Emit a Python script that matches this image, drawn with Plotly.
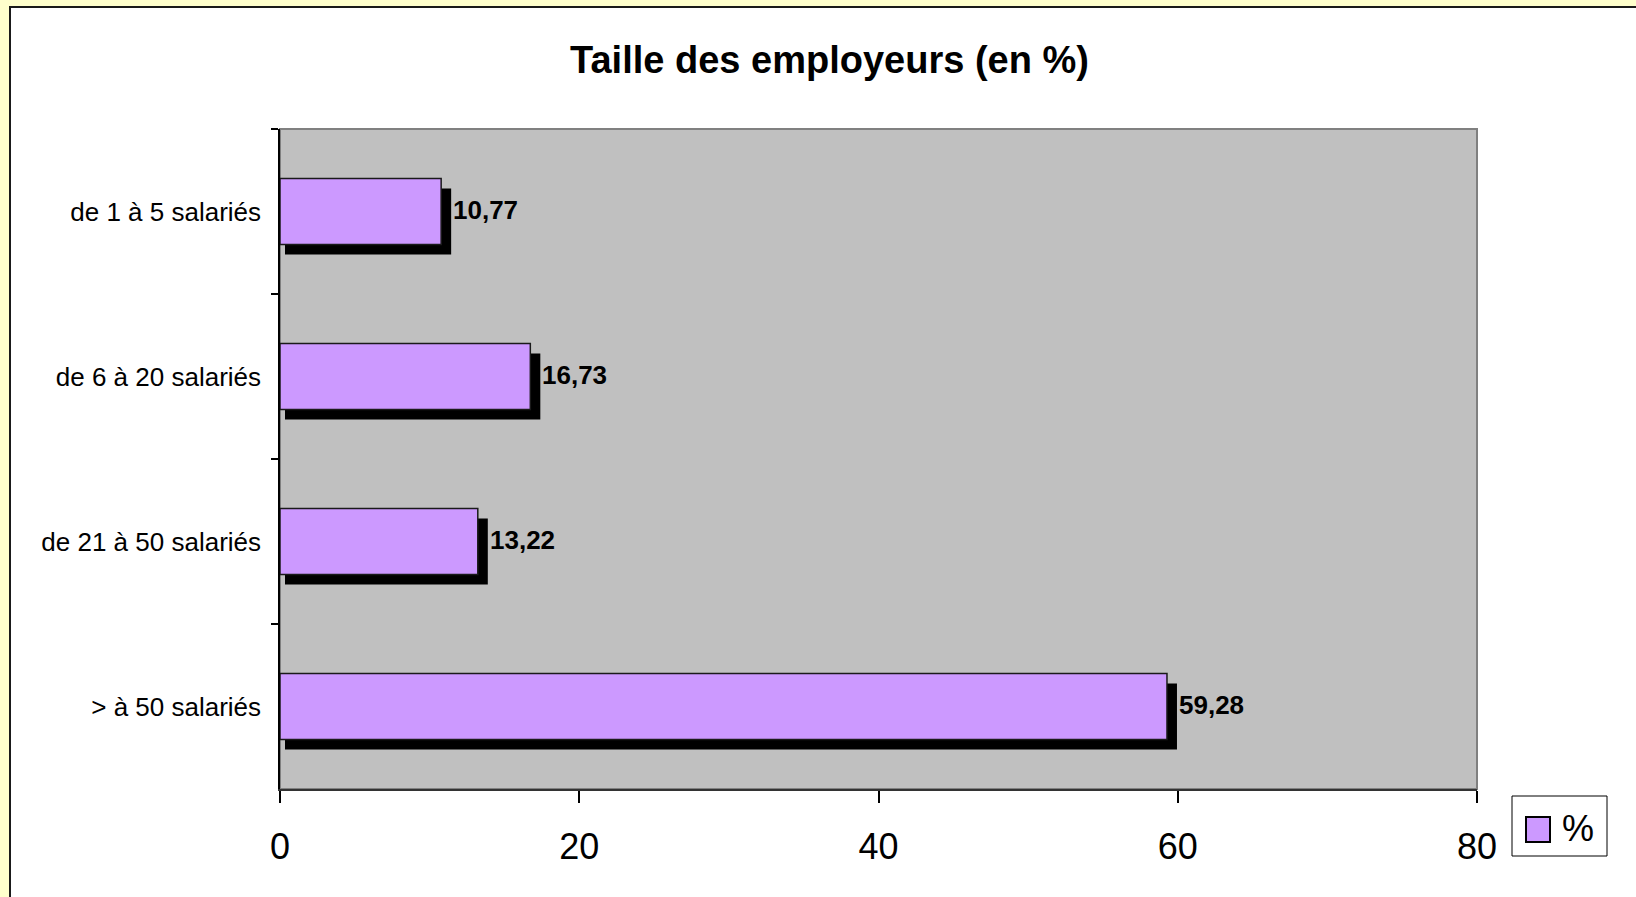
import plotly.graph_objects as go

# ---- data ----
categories = ["de 1 à 5 salariés", "de 6 à 20 salariés", "de 21 à 50 salariés", "> à 50 salariés"]
values = [10.77, 16.73, 13.22, 59.28]
value_labels = ["10,77", "16,73", "13,22", "59,28"]
x_ticks = [0, 20, 40, 60, 80]
series_name = "%"
title_text = "Taille des employeurs (en %)"

# ---- layout geometry (pixels) ----
W, H = 1636, 897
L, R, T, B = 280, 1477, 129, 789
PW, PH = R - L, B - T
XMAX = 80
px_per_unit = PW / XMAX
band_px = PH / len(categories)
BAR_W = 0.4

def px2x(px):
    return (px - L) / PW

def py2y(py):
    return (B - py) / PH

FONT = "Liberation Sans, Arial, sans-serif"

shadow_dx = 10 / px_per_unit
shadow_base = 5 / px_per_unit
shadow_dy = 10 / band_px

fig = go.Figure()

# shadow
fig.add_trace(go.Bar(
    y=categories,
    x=[v + shadow_dx - shadow_base for v in values],
    base=shadow_base,
    orientation="h",
    width=BAR_W,
    offset=-BAR_W / 2 + shadow_dy,
    marker=dict(color="#000000", line=dict(width=0)),
    showlegend=False,
    hoverinfo="skip",
))

# main bars
fig.add_trace(go.Bar(
    y=categories,
    x=values,
    orientation="h",
    width=BAR_W,
    offset=-BAR_W / 2,
    name=series_name,
    marker=dict(color="#CC99FF", line=dict(color="#1a1a1a", width=1.5)),
    showlegend=False,
))

annotations = []
for c, v, t in zip(categories, values, value_labels):
    annotations.append(dict(
        x=v, y=c, xref="x", yref="y", text=t, showarrow=False,
        xanchor="left", yanchor="middle", xshift=10, yshift=2,
        font=dict(family=FONT, size=26, color="#000000", weight="bold"),
    ))

# manual legend
annotations.append(dict(
    x=px2x(1560), y=py2y(828), xref="paper", yref="paper", text=series_name,
    showarrow=False, xanchor="left", yanchor="middle",
    font=dict(family=FONT, size=36, color="#000000"),
))

shapes = [
    # white chart area with border
    dict(type="rect", xref="paper", yref="paper", layer="below",
         x0=px2x(10), x1=px2x(W + 20), y0=py2y(H + 20), y1=py2y(7),
         fillcolor="#FFFFFF", line=dict(color="#1a1a1a", width=2)),
    # gray plot area
    dict(type="rect", xref="paper", yref="paper", layer="below",
         x0=0, x1=1, y0=0, y1=1,
         fillcolor="#C0C0C0", line=dict(color="#808080", width=2)),
    # legend box
    dict(type="rect", xref="paper", yref="paper", layer="above",
         x0=px2x(1512), x1=px2x(1607), y0=py2y(856), y1=py2y(796),
         fillcolor="#FFFFFF", line=dict(color="#000000", width=1)),
    # legend swatch
    dict(type="rect", xref="paper", yref="paper", layer="above",
         x0=px2x(1526), x1=px2x(1550), y0=py2y(842), y1=py2y(817),
         fillcolor="#CC99FF", line=dict(color="#000000", width=2)),
]

fig.update_layout(
    width=W, height=H,
    margin=dict(l=L, r=W - R, t=T, b=H - B, pad=0),
    paper_bgcolor="#FFFFCC",
    plot_bgcolor="rgba(0,0,0,0)",
    barmode="overlay",
    showlegend=False,
    title=dict(text=title_text, xref="container", yref="container",
               x=829.5 / W, y=1 - 60 / H, xanchor="center", yanchor="middle",
               font=dict(family=FONT, size=38, color="#000000", weight="bold")),
    xaxis=dict(range=[0, XMAX], tickvals=x_ticks, ticktext=[str(v) for v in x_ticks],
               showgrid=False, zeroline=False, showline=True,
               linecolor="#333333", linewidth=2,
               ticks="outside", ticklen=12, tickcolor="#000000", tickwidth=1.5,
               ticklabelstandoff=13,
               tickfont=dict(family=FONT, size=36, color="#000000")),
    yaxis=dict(categoryorder="array", categoryarray=categories,
               range=[len(categories) - 0.5, -0.5],
               showgrid=False, zeroline=False, showline=True,
               linecolor="#000000", linewidth=1.5,
               ticks="outside", ticklen=7, tickcolor="#000000", tickwidth=1.5,
               tickson="boundaries", ticklabelstandoff=12,
               tickfont=dict(family=FONT, size=26, color="#000000")),
    shapes=shapes,
    annotations=annotations,
)

fig.write_html(
    "out.html",
    config={"displayModeBar": False},
    post_script="document.body.style.margin='0';document.body.style.padding='0';",
)
